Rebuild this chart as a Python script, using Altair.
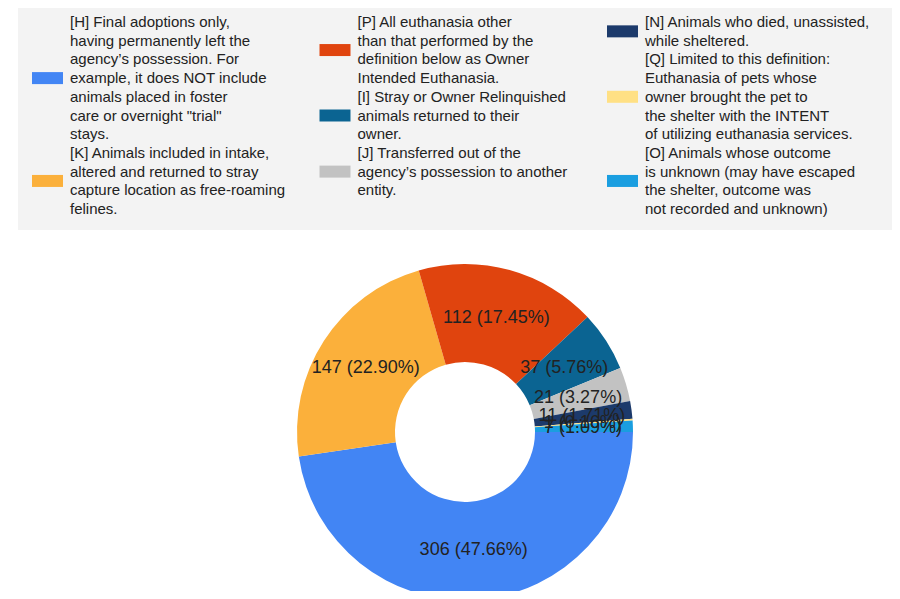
import math
import altair as alt
import pandas as pd

# ---- data -------------------------------------------------------------
keys = ["H", "K", "P", "I", "J", "N", "Q", "O"]
values = [306, 147, 112, 37, 21, 11, 1, 7]
colors = ["#4285f4", "#fbb03b", "#e0440e", "#0b6492", "#c2c2c2", "#1c3a6b", "#ffe084", "#1a9ee0"]
legend_lines = [
    ["[H] Final adoptions only,", "having permanently left the", "agency’s possession. For",
     "example, it does NOT include", "animals placed in foster", "care or overnight \"trial\"", "stays."],
    ["[K] Animals included in intake,", "altered and returned to stray",
     "capture location as free-roaming", "felines."],
    ["[P] All euthanasia other", "than that performed by the", "definition below as Owner",
     "Intended Euthanasia."],
    ["[I] Stray or Owner Relinquished", "animals returned to their", "owner."],
    ["[J] Transferred out of the", "agency’s possession to another", "entity."],
    ["[N] Animals who died, unassisted,", "while sheltered."],
    ["[Q] Limited to this definition:", "Euthanasia of pets whose", "owner brought the pet to",
     "the shelter with the INTENT", "of utilizing euthanasia services."],
    ["[O] Animals whose outcome", "is unknown (may have escaped", "the shelter, outcome was",
     "not recorded and unknown)"],
]
legend_column = [0, 0, 1, 1, 1, 2, 2, 2]

# ---- tables -----------------------------------------------------------
pie_df = pd.DataFrame({"key": keys, "value": values, "idx": list(range(len(keys)))})

line_rows, swatch_rows = [], []
col_fill = {0: 0, 1: 0, 2: 0}
for k, lines, c in zip(keys, legend_lines, legend_column):
    start = col_fill[c]
    for j, t in enumerate(lines):
        line_rows.append({"key": k, "col": c, "row": start + j, "text": t})
    swatch_rows.append({"key": k, "col": c, "row": start + (len(lines) - 1) / 2})
    col_fill[c] = start + len(lines)
lines_df = pd.DataFrame(line_rows)
swatch_df = pd.DataFrame(swatch_rows)

color_scale = alt.Scale(domain=keys, range=colors)
x_scale = alt.Scale(domain=[0, 2], range=[39.5, 614.5])
y_scale = alt.Scale(domain=[0, 10], range=[14, 201])
theta_scale = alt.Scale(range=[math.pi / 2, math.pi / 2 + 2 * math.pi])

FONT = "Liberation Sans"

bg = alt.Chart(pd.DataFrame({"a": [0]})).mark_rect(color="#f3f3f3").encode(
    x=alt.value(10), x2=alt.value(884), y=alt.value(0), y2=alt.value(222)
)

swatches = alt.Chart(swatch_df).mark_rect(width=31, height=12).encode(
    x=alt.X("col:Q", scale=x_scale, axis=None),
    y=alt.Y("row:Q", scale=y_scale, axis=None),
    color=alt.Color("key:N", scale=color_scale, legend=None),
)

legend_text = alt.Chart(lines_df).mark_text(
    align="left", baseline="middle", dx=22.5, font=FONT, fontSize=15, color="#222222"
).encode(
    x=alt.X("col:Q", scale=x_scale, axis=None),
    y=alt.Y("row:Q", scale=y_scale, axis=None),
    text="text:N",
)

base = alt.Chart(pie_df).transform_joinaggregate(
    total="sum(value)"
).transform_calculate(
    label="datum.value + ' (' + format(datum.value / datum.total * 100, '.2f') + '%)'"
)

arcs = base.mark_arc(radius=168, radius2=70).encode(
    theta=alt.Theta("value:Q", stack=True, scale=theta_scale),
    color=alt.Color("key:N", scale=color_scale, legend=None),
    order=alt.Order("idx:Q"),
    x=alt.value(457),
    y=alt.value(424),
)

labels = base.mark_text(radius=118, font=FONT, fontSize=18, color="#222222").encode(
    theta=alt.Theta("value:Q", stack=True, scale=theta_scale),
    order=alt.Order("idx:Q"),
    text="label:N",
    x=alt.value(457),
    y=alt.value(424),
)

chart = alt.layer(bg, swatches, legend_text, arcs, labels).properties(
    width=884, height=583, padding=0, autosize="none"
).configure_view(stroke=None)

chart.save("out.html", embed_options={"renderer": "svg", "actions": False})
